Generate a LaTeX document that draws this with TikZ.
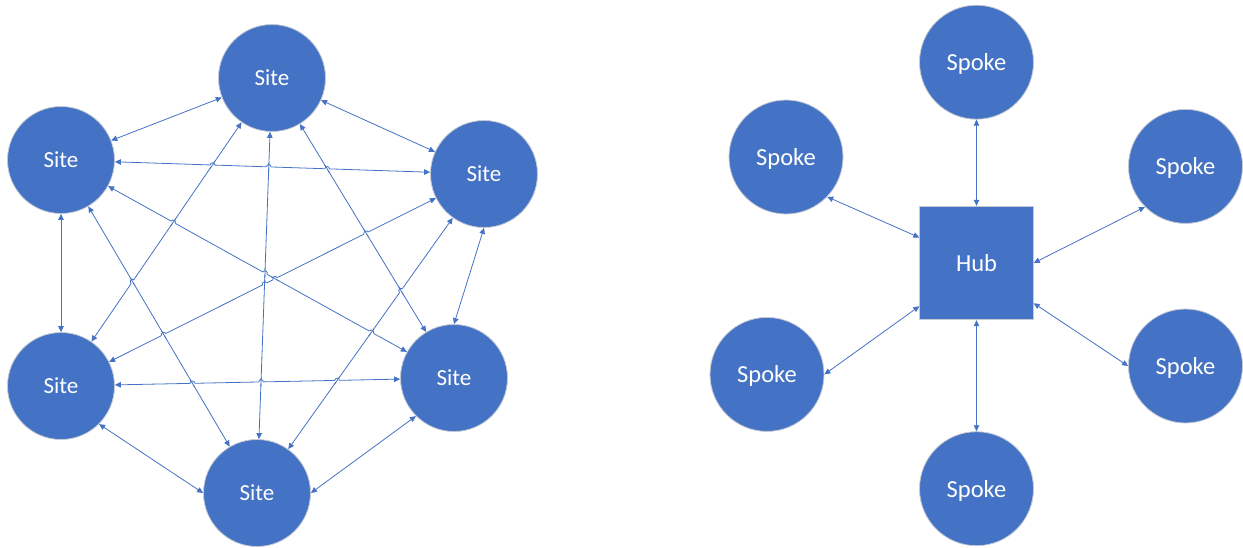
\documentclass[tikz,border=0pt]{standalone}
\usepackage{fontspec}
\setmainfont{Carlito}
\usetikzlibrary{arrows.meta,calc}
\definecolor{ofblue}{HTML}{4472C4}
\definecolor{rim}{HTML}{C4C9D2}
% crossing point of the centre lines #1--#2 and #3--#4, stored as coordinate (hx)
\newcommand\crossat[4]{\pgfcoordinate{hx}{\pgfpointintersectionoflines
  {\pgfpointanchor{#1}{center}}{\pgfpointanchor{#2}{center}}
  {\pgfpointanchor{#3}{center}}{\pgfpointanchor{#4}{center}}}}
\begin{document}
\begin{tikzpicture}[x=1pt,y=-1pt,
  site/.style={circle,fill=ofblue,draw=rim,line width=0.8pt,minimum size=107pt,
    inner sep=0pt,text=white,text depth=0pt,font=\fontsize{23}{27}\selectfont},
  spoke/.style={site,minimum size=114pt,font=\fontsize{24.5}{29}\selectfont},
  hubbox/.style={rectangle,fill=ofblue,draw=rim,line width=0.8pt,minimum size=113.6pt,
    inner sep=0pt,text=white,text depth=0pt,font=\fontsize{24.5}{29}\selectfont},
  link/.style={draw=ofblue,line width=0.8pt},
  duplex/.style={link,{Triangle[length=6pt,width=5.5pt]}-{Triangle[length=6pt,width=5.5pt]}},
  eraser/.style={draw=white,line width=2.8pt}]
\useasboundingbox (0,0) rectangle (1243,547);

% ---------- full mesh ----------
\node[site] (T)  at (272,78)  {Site};
\node[site] (UL) at (61,160)  {Site};
\node[site] (UR) at (484,174) {Site};
\node[site] (LL) at (61,386)  {Site};
\node[site] (LR) at (454,378) {Site};
\node[site] (B)  at (257,493) {Site};

\draw[duplex] (T) -- (UL);
\draw[duplex] (T) -- (UR);
\draw[duplex] (UL) -- (UR);
\draw[duplex] (T) -- (LL);
\draw[duplex] (T) -- (B);
\draw[duplex] (T) -- (LR);
\draw[duplex] (UL) -- (LL);
\draw[duplex] (UL) -- (B);
\draw[duplex] (UL) -- (LR);
\draw[duplex] (UR) -- (LL);
\draw[duplex] (UR) -- (B);
\draw[duplex] (UR.south) -- (LR.north);
\draw[duplex] (LL) -- (LR);
\draw[duplex] (LL.-45) -- (B.west);
\draw[duplex] (LR.-135) -- (B.east);

% line jumps: first pair hops over second pair (first end is the left one)
\def\hoplist{B/UR/T/LR, LL/UR/T/LR, UL/UR/T/LR, LL/UR/T/B, UL/UR/T/B,
  LL/LR/T/B, UL/LR/T/B, UL/UR/T/LL, UL/LR/T/LL, LL/T/UL/B, LL/LR/UR/B,
  UL/LR/UR/B, LL/UR/UL/LR, LL/UR/UL/B, LL/LR/UL/B}
\foreach \a/\b/\c/\d in \hoplist {
  \crossat{\a}{\b}{\c}{\d}
  \draw[eraser] ($(hx)!2.3pt!(\a)$) -- ($(hx)!2.3pt!(\b)$);
}
\foreach \a/\b/\c/\d in \hoplist {
  \crossat{\a}{\b}{\c}{\d}
  \draw[link] ($(hx)!4.5pt!(\c)$) -- ($(hx)!4.5pt!(\d)$);
}
\foreach \a/\b/\c/\d in \hoplist {
  \crossat{\a}{\b}{\c}{\d}
  \draw[link] let \p1=($(\b)-(\a)$), \n1={atan2(\y1,\x1)} in
    ($(hx)!2.3pt!(\a)$) arc[start angle=\n1+180, end angle=\n1, radius=2.3pt];
}

% ---------- hub and spoke ----------
\node[hubbox] (hub) at (976.5,263) {Hub};
\node[spoke] (ST)  at (976.5,62.2)  {Spoke};
\node[spoke] (SUL) at (786,157)     {Spoke};
\node[spoke] (SUR) at (1185.5,166.4){Spoke};
\node[spoke] (SLL) at (767,374.4)   {Spoke};
\node[spoke] (SLR) at (1185.5,366)  {Spoke};
\node[spoke] (SB)  at (976.5,488.7) {Spoke};

\coordinate (hUL) at ($(hub.north west)+(0,31.7)$);
\coordinate (hLL) at ($(hub.south west)+(0,-14)$);
\coordinate (hLR) at ($(hub.south east)+(0,-17)$);

\draw[duplex] (ST) -- (hub);
\draw[duplex] (SUL.-44) -- (hUL);
\draw[duplex] (SUR.-135) -- (hub.east);
\draw[duplex] (SLL.east) -- (hLL);
\draw[duplex] (SLR.west) -- (hLR);
\draw[duplex] (hub) -- (SB);
\end{tikzpicture}
\end{document}
